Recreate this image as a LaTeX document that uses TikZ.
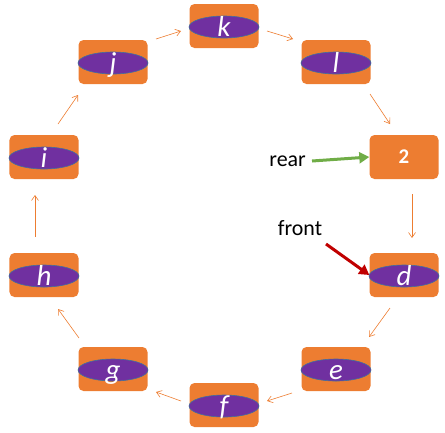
\documentclass[tikz,border=0pt]{standalone}
\usepackage{fontspec}
\setmainfont{Carlito}
\usetikzlibrary{arrows.meta,shapes.geometric}
\definecolor{orng}{HTML}{ED7D31}
\definecolor{purp}{HTML}{7030A0}
\definecolor{ellb}{HTML}{41719C}
\definecolor{grn}{HTML}{70AD47}
\definecolor{dred}{HTML}{C00000}
\tikzset{
  qbox/.style={fill=orng, draw=none, rounded corners=5bp, minimum width=69bp, minimum height=44bp, inner sep=0pt},
  qell/.style={ellipse, fill=purp, draw=ellb, line width=0.6bp, minimum width=70bp, minimum height=22bp, inner sep=0pt},
  qlet/.style={text=white, font=\fontsize{29}{29}\selectfont\itshape, inner sep=0pt},
  qarr/.style={draw=orng, line width=0.6bp, -{Straight Barb[length=5bp,width=7bp,line width=0.6bp]}},
  lbl/.style={font=\fontsize{22}{24}\selectfont, inner sep=0pt}
}
\begin{document}
\begin{tikzpicture}[x=1bp,y=-1bp]
\useasboundingbox (0,0) rectangle (445,432);
% boxes with ellipses
\foreach \n/\t/\x/\y in {k/k/224/26, l/l/336/62, d/d/404/275, e/e/336/369, f/f/224/405, g/g/113/369, h/h/44/275, i/i/44/157, j/j/113/62}{
  \node[qbox] (\n) at (\x,\y) {};
  \node[qell] (\n e) at (\x,\y+1) {};
  \node[qlet, anchor=base] (\n t) at (\x,\y+10) {\t};
}
\node[qbox, text=white, font=\fontsize{21}{21}\selectfont\bfseries] (two) at (404,157) {2};
% arrow coordinates
\coordinate (a1s) at (156,39); \coordinate (a1e) at (181,31);
\coordinate (a2s) at (267,31); \coordinate (a2e) at (293,39);
\coordinate (a3s) at (370,94); \coordinate (a3e) at (390,124);
\coordinate (a4s) at (412,194); \coordinate (a4e) at (412,238);
\coordinate (a5s) at (390,308); \coordinate (a5e) at (369,337);
\coordinate (a6s) at (292,393); \coordinate (a6e) at (267,401);
\coordinate (a7s) at (181,401); \coordinate (a7e) at (156,392);
\coordinate (a8s) at (79,338); \coordinate (a8e) at (58,309);
\coordinate (a9s) at (35,237); \coordinate (a9e) at (35,195);
\coordinate (a10s) at (58,124); \coordinate (a10e) at (78,95);
\foreach \i in {1,...,10}{ \draw[qarr] (a\i s) -- (a\i e); }
% labels
\node[lbl, anchor=east] (rear) at (306,161) {rear};
\draw[grn, line width=3bp, -{Triangle[length=10bp,width=11bp]}] (rear.east) ++(6,0) -- (two.west);
\node[lbl] (front) at (300,228) {front};
\coordinate (fs) at (326,244);
\draw[dred, line width=3bp, -{Triangle[length=10bp,width=11bp]}] (fs) -- (d.west);
\end{tikzpicture}
\end{document}
